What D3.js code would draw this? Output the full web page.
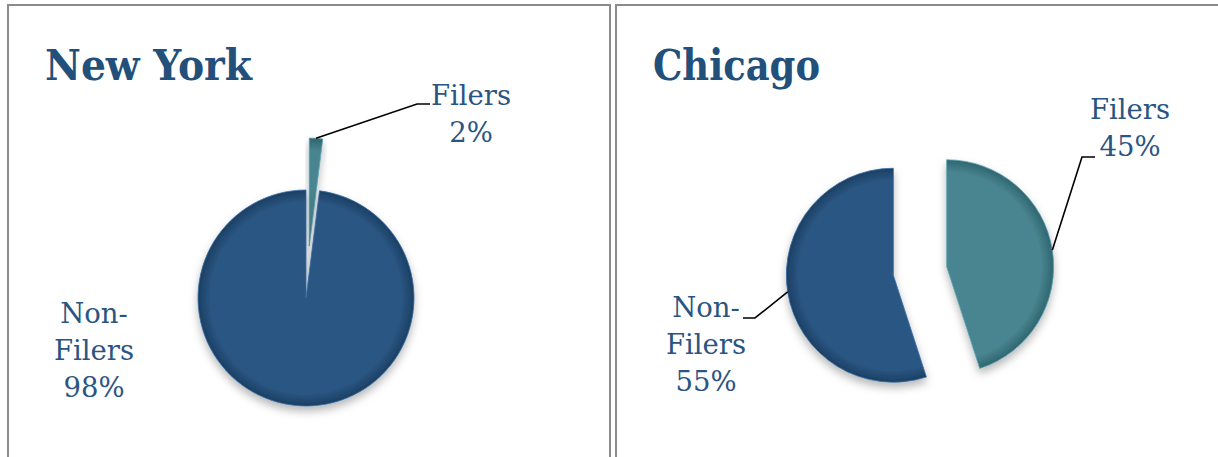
<!DOCTYPE html>
<html>

<head>
    <script src="https://d3js.org/d3.v7.min.js"></script>
    <style>
        body {
            margin: 0;
            background: #fff;
        }

        .title {
            font-family: "DejaVu Serif", serif;
            font-weight: bold;
            fill: #22507a;
        }

        .label {
            font-family: "DejaVu Serif", serif;
            fill: #2a5582;
        }

        .leader {
            fill: none;
            stroke: #000;
            stroke-width: 1.6px;
        }

        .panel {
            fill: none;
            stroke: #8c8c8c;
            stroke-width: 2px;
        }
    </style>
</head>

<body>
    <div id="chart"></div>

    <script>
        // Data
        const cities = ["New York", "Chicago"];
        const categories = ["Filers", "Non-Filers"];
        const newYorkValues = [2, 98];
        const chicagoValues = [45, 55];

        const width = 1218;
        const height = 457;

        const colors = d3.scaleOrdinal()
            .domain(categories)
            .range(["#4a8590", "#2b5784"]);
        const edgeColors = d3.scaleOrdinal()
            .domain(categories)
            .range(["#2f6670", "#1c3f63"]);

        // layout per panel (positions only)
        const panels = [
            {
                city: cities[0], values: newYorkValues,
                box: [8, 5, 602], titleX: 45, titleW: 207,
                cx: 306, cy: 298, r: 108, explode: [52, 0],
                labels: [
                    { x: 471, y: 105, wrap: false, leader: [[417, 104], [430, 104]] },
                    { x: 94, y: 323, wrap: true, leader: null }
                ]
            },
            {
                city: cities[1], values: chicagoValues,
                box: [616, 5, 640], titleX: 653, titleW: 167,
                cx: 920, cy: 271, r: 107, explode: [27, 27],
                labels: [
                    { x: 1130, y: 119, wrap: false, leader: [[1082, 157], [1095, 157]] },
                    { x: 706, y: 317, wrap: true, leader: [[755, 318], [743, 318]] }
                ]
            }
        ];

        const svg = d3.select('#chart').append('svg')
            .attr('width', width)
            .attr('height', height);

        const defs = svg.append('defs');
        const shadow = defs.append('filter')
            .attr('id', 'shadow')
            .attr('x', '-30%').attr('y', '-30%')
            .attr('width', '160%').attr('height', '160%');
        shadow.append('feDropShadow')
            .attr('dx', 0).attr('dy', 5)
            .attr('stdDeviation', 4)
            .attr('flood-color', '#000')
            .attr('flood-opacity', 0.28);

        const pie = d3.pie().sort(null).value(d => d);

        panels.forEach((p, pi) => {
            // panel frame
            svg.append('rect')
                .attr('class', 'panel')
                .attr('x', p.box[0])
                .attr('y', p.box[1])
                .attr('width', p.box[2])
                .attr('height', height + 20);

            svg.append('text')
                .attr('class', 'title')
                .attr('x', p.titleX)
                .attr('y', 80)
                .attr('font-size', 43)
                .attr('textLength', p.titleW)
                .attr('lengthAdjust', 'spacingAndGlyphs')
                .text(p.city);

            const arc = d3.arc().innerRadius(0).outerRadius(p.r);
            const arcs = pie(p.values);

            // gradients for edge shading
            categories.forEach((c, ci) => {
                const g = defs.append('radialGradient')
                    .attr('id', `grad-${pi}-${ci}`)
                    .attr('gradientUnits', 'userSpaceOnUse')
                    .attr('cx', 0).attr('cy', 0).attr('r', p.r);
                g.append('stop').attr('offset', '0%').attr('stop-color', colors(c));
                g.append('stop').attr('offset', '88%').attr('stop-color', colors(c));
                g.append('stop').attr('offset', '100%').attr('stop-color', edgeColors(c));
            });

            const pieG = svg.append('g')
                .attr('transform', `translate(${p.cx},${p.cy})`);

            const offset = (d, i) => {
                const mid = (d.startAngle + d.endAngle) / 2;
                const e = p.explode[i];
                return [Math.sin(mid) * e, -Math.cos(mid) * e];
            };

            pieG.selectAll('g.slice')
                .data(arcs)
                .join('g')
                .attr('class', 'slice')
                .attr('filter', 'url(#shadow)')
                .attr('transform', (d, i) => `translate(${offset(d, i)})`)
                .append('path')
                .attr('d', arc)
                .attr('fill', (d, i) => `url(#grad-${pi}-${i})`)
                .attr('stroke', (d, i) => d3.color(colors(categories[i])).brighter(0.6))
                .attr('stroke-width', 0.8);

            // labels and leader lines
            arcs.forEach((d, i) => {
                const lab = p.labels[i];
                const name = categories[i];
                const lines = lab.wrap ? name.replace('-', '-\n').split('\n') : [name];
                lines.push(`${d.data}%`);

                const t = svg.append('text')
                    .attr('class', 'label')
                    .attr('font-size', 27.5)
                    .attr('text-anchor', 'middle');
                lines.forEach((s, k) => {
                    t.append('tspan')
                        .attr('x', lab.x)
                        .attr('y', lab.y + k * 37)
                        .text(s);
                });

                if (lab.leader) {
                    const mid = (d.startAngle + d.endAngle) / 2;
                    const [ox, oy] = offset(d, i);
                    const start = [p.cx + ox + Math.sin(mid) * p.r, p.cy + oy - Math.cos(mid) * p.r];
                    svg.append('path')
                        .attr('class', 'leader')
                        .attr('d', d3.line()([start, ...lab.leader]));
                }
            });
        });
    </script>
</body>

</html>
